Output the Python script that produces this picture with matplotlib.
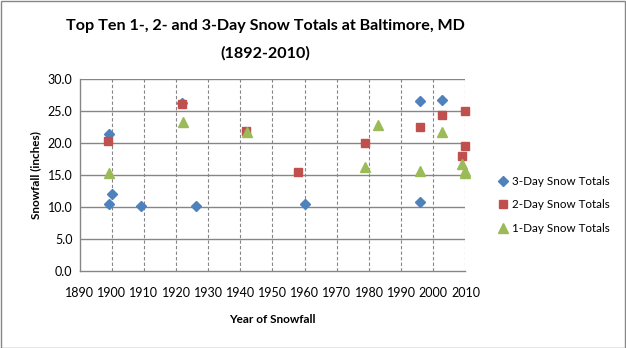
import matplotlib
matplotlib.use("Agg")
import matplotlib.pyplot as plt
from matplotlib.patches import Rectangle

plt.rcParams['font.family'] = ['Lato', 'DejaVu Sans']

# Top ten multi-day snowfall events, Baltimore, MD
years_3day = [1899.2, 1899.2, 1900.2, 1909.2, 1922.0, 1926.1, 1960.0, 1995.8, 1995.8, 2002.7]
snow_3day = [21.4, 10.5, 12.0, 10.1, 26.3, 10.2, 10.5, 26.6, 10.8, 26.8]

years_2day = [1898.9, 1922.0, 1941.9, 1957.9, 1978.7, 1995.8, 2002.7, 2009.8, 2009.8, 2008.8]
snow_2day = [20.3, 26.2, 21.9, 15.5, 20.0, 22.5, 24.4, 25.0, 19.5, 18.0]

years_1day = [1899.2, 1922.1, 1942.0, 1978.7, 1982.8, 1995.8, 2002.7, 2008.8, 2009.9, 2009.7]
snow_1day = [15.3, 23.3, 21.8, 16.3, 22.8, 15.7, 21.8, 16.8, 15.7, 15.3]

x_ticks = list(range(1890, 2011, 10))
y_ticks = [0, 5, 10, 15, 20, 25, 30]

blue = '#4F81BD'
red = '#C0504D'
green = '#9BBB59'
grid_col = '#868686'

fig = plt.figure(figsize=(6.26, 3.48), dpi=100)
fig.patches.append(Rectangle((0.0008, 0.0014), 0.9975, 0.996, transform=fig.transFigure,
                             fill=False, edgecolor='#868686', linewidth=1.0))

ax = fig.add_axes([0.127, 0.2213, 0.6166, 0.5508])
ax.set_xlim(1890, 2010)
ax.set_ylim(0, 30)

# grid: solid horizontal, dashed vertical
for y in y_ticks[1:]:
    ax.axhline(y, color=grid_col, linewidth=1.0, zorder=1)
for x in x_ticks[1:]:
    ax.axvline(x, color=grid_col, linewidth=0.8, linestyle=(0, (3, 2)), zorder=1)

for side in ['top', 'right']:
    ax.spines[side].set_visible(False)
for side in ['left', 'bottom']:
    ax.spines[side].set_color(grid_col)
    ax.spines[side].set_linewidth(1.0)

ax.set_xticks(x_ticks)
ax.set_xticklabels([str(v) for v in x_ticks])
ax.set_yticks(y_ticks)
ax.set_yticklabels([f'{v:.1f}' for v in y_ticks])
ax.tick_params(axis='both', length=0, labelsize=9, colors='black')
ax.tick_params(axis='x', pad=11.5)
ax.tick_params(axis='y', pad=5)

ax.plot(years_3day, snow_3day, linestyle='none', marker='D', markersize=5.3,
        color=blue, label='3-Day Snow Totals', zorder=3, clip_on=False)
ax.plot(years_2day, snow_2day, linestyle='none', marker='s', markersize=6.2,
        color=red, label='2-Day Snow Totals', zorder=4, clip_on=False)
ax.plot(years_1day, snow_1day, linestyle='none', marker='^', markersize=7.3,
        color=green, label='1-Day Snow Totals', zorder=5, clip_on=False)

ax.set_xlabel('Year of Snowfall', fontsize=8.5, fontweight='bold', labelpad=11)
ax.set_ylabel('Snowfall (inches)', fontsize=8.5, fontweight='bold', labelpad=5)

leg = ax.legend(loc='center left', bbox_to_anchor=(1.07, 0.345), frameon=False,
                fontsize=8.4, handletextpad=0.3, labelspacing=1.05, handlelength=1.0,
                borderaxespad=0, markerscale=0.9)

fig.text(265 / 626, 1 - 26 / 348, 'Top Ten 1-, 2- and 3-Day Snow Totals at Baltimore, MD',
         ha='center', va='center', fontsize=11.6, fontweight='bold')
fig.text(265 / 626, 1 - 53 / 348, '(1892-2010)', ha='center', va='center',
         fontsize=11.6, fontweight='bold')

fig.savefig('out.png', dpi=100)
